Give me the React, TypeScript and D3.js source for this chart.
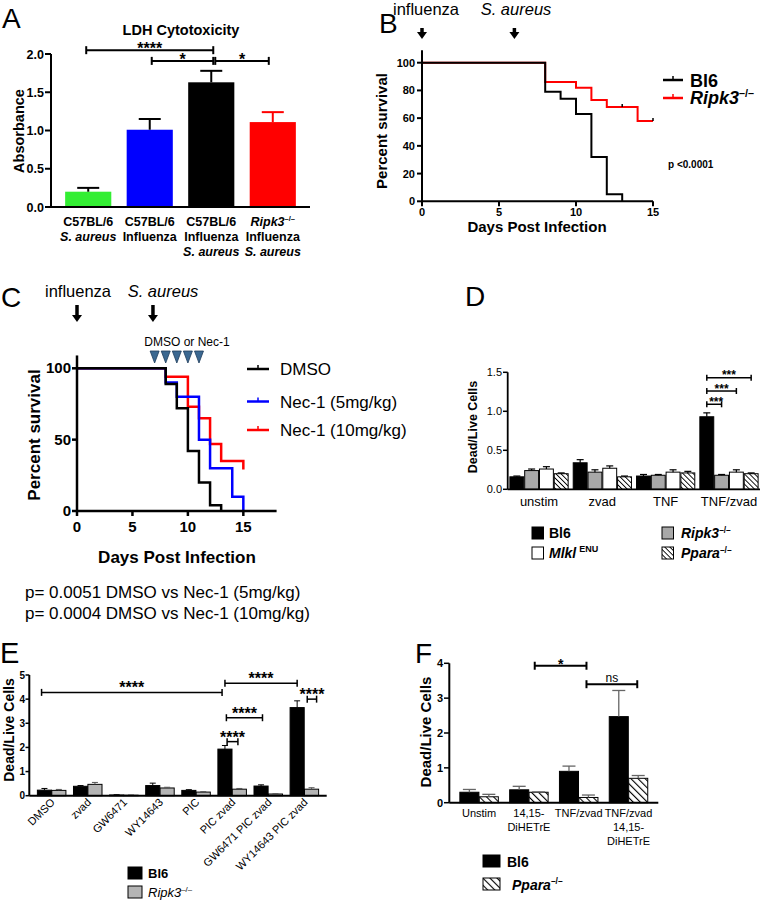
import React from 'react';
import * as d3 from 'd3';

const FONT = '"Liberation Sans", Arial, Helvetica, sans-serif';

// ---------- A: LDH cytotoxicity
const ldhLabels = [
  ['C57BL/6', 'S. aureus'],
  ['C57BL/6', 'Influenza'],
  ['C57BL/6', 'Influenza', 'S. aureus'],
  ['Ripk3', 'Influenza', 'S. aureus'],
];
const ldhMeans = [0.2, 1.01, 1.63, 1.11];
const ldhErr = [0.05, 0.14, 0.15, 0.13];
const ldhColors = ['#33ee33', '#0000ff', '#000000', '#ff0000'];
const ldhErrColors = ['#000', '#000', '#000', '#ff0000'];
const ldhTicks = [0, 0.5, 1, 1.5, 2];
const ldhSig = [
  { a: 0, b: 2, level: 2.05, label: '****', da: -2, db: 2 },
  { a: 1, b: 2, level: 1.91, label: '*', da: 2, db: 2 },
  { a: 2, b: 3, level: 1.91, label: '*', da: 4, db: -4 },
];

// ---------- B: survival Bl6 vs Ripk3
const bBl6Days = [0, 8, 9, 10, 11, 12, 13];
const bBl6Surv = [100, 79, 74, 63, 32, 5, 0];
const bRipDays = [0, 8, 10, 11, 12, 14, 15];
const bRipSurv = [100, 86, 82, 73, 68, 58, 58];
const bRipCensor = [[13, 68], [15, 58]];
const bYTicks = [0, 20, 40, 60, 80, 100];
const bXTicks = [0, 5, 10, 15];

// ---------- C: survival Nec-1
const cDmsoDays = [0, 8, 9, 10, 11, 12, 13];
const cDmsoSurv = [100, 89, 72, 42, 20, 4, 0];
const cNec5Days = [0, 8, 9, 11, 12, 14, 15];
const cNec5Surv = [100, 90, 80, 50, 30, 10, 0];
const cNec10Days = [0, 8, 10, 11, 12, 13, 15];
const cNec10Surv = [100, 94, 73, 65, 47, 35, 29];
const cDoseDays = [7, 8, 9, 10, 11];
const cYTicks = [0, 50, 100];
const cXTicks = [0, 5, 10, 15];
const cLegend = ['DMSO', 'Nec-1 (5mg/kg)', 'Nec-1 (10mg/kg)'];
const cColors = ['#000000', '#0000ff', '#ff0000'];
const cPvals = ['p= 0.0051 DMSO vs Nec-1 (5mg/kg)', 'p= 0.0004 DMSO vs Nec-1 (10mg/kg)'];

// ---------- D: dead/live by genotype
const dGroups = ['unstim', 'zvad', 'TNF', 'TNF/zvad'];
const dBl6 = [0.16, 0.34, 0.17, 0.93];
const dBl6Err = [0.01, 0.04, 0.02, 0.05];
const dRipk3 = [0.24, 0.22, 0.18, 0.18];
const dRipk3Err = [0.02, 0.03, 0.01, 0.01];
const dMlkl = [0.26, 0.27, 0.22, 0.22];
const dMlklErr = [0.03, 0.03, 0.03, 0.03];
const dPpara = [0.2, 0.16, 0.21, 0.2];
const dPparaErr = [0.01, 0.01, 0.02, 0.01];
const dTicks = [0, 0.5, 1, 1.5];
const dSig = [
  { b: 1, level: 1.09 },
  { b: 2, level: 1.26 },
  { b: 3, level: 1.43 },
];

// ---------- E: PPAR ligands
const eGroups = ['DMSO', 'zvad', 'GW6471', 'WY14643', 'PIC', 'PIC zvad', 'GW6471 PIC zvad', 'WY14643 PIC zvad'];
const eBl6 = [0.23, 0.39, 0.03, 0.42, 0.22, 1.93, 0.4, 3.65];
const eBl6Err = [0.07, 0.03, 0.01, 0.1, 0.03, 0.15, 0.05, 0.28];
const eRipk3 = [0.22, 0.47, 0.02, 0.32, 0.15, 0.27, 0.07, 0.27];
const eRipk3Err = [0.04, 0.08, 0.01, 0.03, 0.02, 0.03, 0.01, 0.06];
const eTicks = [0, 1, 2, 3, 4, 5];
const eSig = [
  { g1: 0, b1: -0.2, g2: 5, b2: -0.2, level: 4.28 },
  { g1: 5, b1: 0, g2: 7, b2: 0, level: 4.66 },
  { g1: 5, b1: 0.1, g2: 6, b2: 0.1, level: 3.23 },
  { g1: 5, b1: 0.15, g2: 5, b2: 0.9, level: 2.24 },
  { g1: 7, b1: 0.7, g2: 7, b2: 1.35, level: 4.0 },
];

// ---------- F: DiHETrE
const fLabels = [['Unstim'], ['14,15-', 'DiHETrE'], ['TNF/zvad'], ['TNF/zvad', '14,15-', 'DiHETrE']];
const fBl6 = [0.3, 0.37, 0.9, 2.47];
const fBl6Err = [0.08, 0.1, 0.15, 0.75];
const fPpara = [0.17, 0.3, 0.15, 0.7];
const fPparaErr = [0.07, 0.01, 0.07, 0.08];
const fTicks = [0, 1, 2, 3, 4];
const fSig = [
  { g1: 1, b1: 0.8, g2: 2, b2: 0.9, level: 3.93, label: '*' },
  { g1: 2, b1: 0.9, g2: 3, b2: 0.95, level: 3.4, label: 'ns' },
];

const ErrorBar = ({ x, y0, y1, w, sw = 1, stroke = '#000' }) => (
  <g stroke={stroke} strokeWidth={sw}>
    <line x1={x} x2={x} y1={y0} y2={y1} />
    <line x1={x - w / 2} x2={x + w / 2} y1={y1} y2={y1} />
  </g>
);

const Bracket = ({ x1, x2, y, cap = 4, sw = 2 }) => (
  <g stroke="#000" strokeWidth={sw}>
    <line x1={x1} x2={x2} y1={y} y2={y} />
    <line x1={x1} x2={x1} y1={y - cap} y2={y + cap} />
    <line x1={x2} x2={x2} y1={y - cap} y2={y + cap} />
  </g>
);

const Arrow = ({ x, y1, y2 }) => (
  <g>
    <line x1={x} x2={x} y1={y1} y2={y2 - 6} stroke="#000" strokeWidth={3.5} />
    <path d={`M${x - 5},${y2 - 7}L${x + 5},${y2 - 7}L${x},${y2}Z`} fill="#000" />
  </g>
);

const KO = ({ name, fs }) => (
  <>
    <tspan fontStyle="italic">{name}</tspan>
    <tspan fontSize={fs * 0.6} dy={-fs * 0.38}>–/–</tspan>
  </>
);

function PanelA() {
  const x = d3.scaleBand().domain(d3.range(ldhMeans.length)).range([51, 310]).paddingInner(0.25).paddingOuter(0.23);
  const y = d3.scaleLinear().domain([0, 2]).range([207, 54]);
  const cx = (i) => x(i) + x.bandwidth() / 2;
  return (
    <g>
      <text x={2} y={28} fontSize={28}>A</text>
      <text x={181} y={35} fontSize={14.5} fontWeight="bold" textAnchor="middle">LDH Cytotoxicity</text>
      {ldhMeans.map((v, i) => (
        <g key={i}>
          <rect x={x(i)} y={y(v)} width={x.bandwidth()} height={y(0) - y(v)} fill={ldhColors[i]} />
          <ErrorBar x={cx(i)} y0={y(v)} y1={y(v + ldhErr[i])} w={22} sw={2} stroke={ldhErrColors[i]} />
        </g>
      ))}
      <line x1={51} x2={310} y1={y(0)} y2={y(0)} stroke="#000" strokeWidth={2} />
      <line x1={51} x2={51} y1={y(0)} y2={y(2)} stroke="#000" strokeWidth={2} />
      {ldhTicks.map((t) => (
        <g key={t}>
          <line x1={45} x2={51} y1={y(t)} y2={y(t)} stroke="#000" strokeWidth={2} />
          <text x={44} y={y(t) + 4.5} fontSize={12.5} fontWeight="bold" textAnchor="end">{t.toFixed(1)}</text>
        </g>
      ))}
      <text transform={`translate(24,${131}) rotate(-90)`} fontSize={14.5} fontWeight="bold" textAnchor="middle">Absorbance</text>
      {ldhLabels.map((lines, i) =>
        lines.map((l, j) => (
          <text key={i + '-' + j} x={cx(i)} y={225.5 + j * 15} fontSize={12.5} fontWeight="bold" textAnchor="middle"
            fontStyle={l === 'S. aureus' ? 'italic' : 'normal'}>
            {l === 'Ripk3' ? <KO name="Ripk3" fs={12.5} /> : l}
          </text>
        ))
      )}
      {ldhSig.map((s, i) => {
        const x1 = cx(s.a) + s.da, x2 = cx(s.b) + s.db;
        return (
          <g key={i}>
            <Bracket x1={x1} x2={x2} y={y(s.level)} />
            <text x={(x1 + x2) / 2} y={y(s.level) + 4} fontSize={16} fontWeight="bold" textAnchor="middle">{s.label}</text>
          </g>
        );
      })}
    </g>
  );
}

function PanelB() {
  const x = d3.scaleLinear().domain([0, 15]).range([422, 653]);
  const y = d3.scaleLinear().domain([0, 100]).range([201.3, 62.7]);
  const line = d3.line().x((d) => x(d[0])).y((d) => y(d[1])).curve(d3.curveStepAfter);
  return (
    <g>
      <text x={379} y={33} fontSize={28}>B</text>
      <text x={426} y={15} fontSize={16.5} textAnchor="middle">influenza</text>
      <text x={516} y={15} fontSize={16.5} fontStyle="italic" textAnchor="middle">S. aureus</text>
      <Arrow x={x(0)} y1={28} y2={39} />
      <Arrow x={x(6)} y1={28} y2={39} />
      <path d={line(d3.zip(bRipDays, bRipSurv))} fill="none" stroke="#ff0000" strokeWidth={2} />
      <path d={line(d3.zip(bBl6Days, bBl6Surv))} fill="none" stroke="#000" strokeWidth={2} />
      {bRipCensor.map((c, i) => (
        <line key={i} x1={x(c[0])} x2={x(c[0])} y1={y(c[1]) - 3} y2={y(c[1])} stroke="#000" strokeWidth={1.5} />
      ))}
      <line x1={x(0)} x2={x(0)} y1={y(0)} y2={y(109)} stroke="#000" strokeWidth={2} />
      <line x1={x(0)} x2={x(15)} y1={y(0)} y2={y(0)} stroke="#000" strokeWidth={2} />
      {bYTicks.map((t) => (
        <g key={t}>
          <line x1={x(0) - 5} x2={x(0)} y1={y(t)} y2={y(t)} stroke="#000" strokeWidth={2} />
          <text x={x(0) - 7} y={y(t) + 4} fontSize={11} fontWeight="bold" textAnchor="end">{t}</text>
        </g>
      ))}
      {bXTicks.map((t) => (
        <g key={t}>
          <line x1={x(t)} x2={x(t)} y1={y(0)} y2={y(0) + 5} stroke="#000" strokeWidth={2} />
          <text x={x(t)} y={216} fontSize={11} fontWeight="bold" textAnchor="middle">{t}</text>
        </g>
      ))}
      <text transform="translate(387,131) rotate(-90)" fontSize={15} fontWeight="bold" textAnchor="middle">Percent survival</text>
      <text x={537} y={232} fontSize={15} fontWeight="bold" textAnchor="middle">Days Post Infection</text>
      {[{ c: '#000', y: 80 }, { c: '#ff0000', y: 98 }].map((l, i) => (
        <g key={i}>
          <line x1={663} x2={683} y1={l.y} y2={l.y} stroke={l.c} strokeWidth={2.5} />
          <line x1={673} x2={673} y1={l.y - 4} y2={l.y} stroke={l.c} strokeWidth={1.5} />
        </g>
      ))}
      <text x={690} y={87} fontSize={18} fontWeight="bold">Bl6</text>
      <text x={690} y={104} fontSize={18} fontWeight="bold"><KO name="Ripk3" fs={18} /></text>
      <text x={668} y={168} fontSize={10} fontWeight="bold">p &lt;0.0001</text>
    </g>
  );
}

function PanelC() {
  const x = d3.scaleLinear().domain([0, 18]).range([77, 276.6]);
  const y = d3.scaleLinear().domain([0, 100]).range([511, 368.3]);
  const line = d3.line().x((d) => x(d[0])).y((d) => y(d[1])).curve(d3.curveStepAfter);
  const curves = [
    d3.zip(cDmsoDays, cDmsoSurv),
    d3.zip(cNec5Days, cNec5Surv),
    d3.zip(cNec10Days, cNec10Surv),
  ];
  const legY = [369, 401.5, 430];
  return (
    <g>
      <text x={1} y={307} fontSize={28}>C</text>
      <text x={78} y={297} fontSize={16.5} textAnchor="middle">influenza</text>
      <text x={163} y={297} fontSize={16.5} fontStyle="italic" textAnchor="middle">S. aureus</text>
      <Arrow x={x(0)} y1={305} y2={322} />
      <Arrow x={x(6.85)} y1={305} y2={322} />
      <text x={187} y={346} fontSize={12} textAnchor="middle">DMSO or Nec-1</text>
      {cDoseDays.map((d) => (
        <path key={d} d={`M${x(d) - 4.5},351L${x(d) + 4.5},351L${x(d)},363Z`} fill="#3b6891" stroke="#1e3c5c" strokeWidth={0.8} />
      ))}
      {[2, 1, 0].map((i) => (
        <path key={i} d={line(curves[i])} fill="none" stroke={cColors[i]} strokeWidth={2.5} />
      ))}
      <line x1={x(0)} x2={x(0)} y1={y(0)} y2={y(109)} stroke="#000" strokeWidth={2.5} />
      <line x1={x(0)} x2={x(18)} y1={y(0)} y2={y(0)} stroke="#000" strokeWidth={2.5} />
      {cYTicks.map((t) => (
        <g key={t}>
          <line x1={x(0) - 5} x2={x(0)} y1={y(t)} y2={y(t)} stroke="#000" strokeWidth={2.5} />
          <text x={x(0) - 6} y={y(t) + 5} fontSize={15} fontWeight="bold" textAnchor="end">{t}</text>
        </g>
      ))}
      {cXTicks.map((t) => (
        <g key={t}>
          <line x1={x(t)} x2={x(t)} y1={y(0)} y2={y(0) + 5} stroke="#000" strokeWidth={2.5} />
          <text x={x(t)} y={532} fontSize={15} fontWeight="bold" textAnchor="middle">{t}</text>
        </g>
      ))}
      <text transform="translate(40,435) rotate(-90)" fontSize={17} fontWeight="bold" textAnchor="middle">Percent survival</text>
      <text x={177} y={563} fontSize={17} fontWeight="bold" textAnchor="middle">Days Post Infection</text>
      {cLegend.map((l, i) => (
        <g key={l}>
          <line x1={247} x2={269} y1={legY[i]} y2={legY[i]} stroke={cColors[i]} strokeWidth={2.5} />
          <line x1={258} x2={258} y1={legY[i] - 4} y2={legY[i]} stroke={cColors[i]} strokeWidth={1.5} />
          <text x={280} y={legY[i] + 6} fontSize={17}>{l}</text>
        </g>
      ))}
      {cPvals.map((p, i) => (
        <text key={i} x={25} y={598 + i * 21} fontSize={17}>{p}</text>
      ))}
    </g>
  );
}

function PanelD() {
  const gx = d3.scaleBand().domain(dGroups).range([508, 760]).paddingInner(0.08).paddingOuter(0.03);
  const ix = d3.scaleBand().domain(d3.range(4)).range([0, gx.bandwidth()]).paddingInner(0.06);
  const y = d3.scaleLinear().domain([0, 1.5]).range([489.3, 372.3]);
  const series = [
    { v: dBl6, e: dBl6Err, fill: '#000' },
    { v: dRipk3, e: dRipk3Err, fill: '#a8a8a8' },
    { v: dMlkl, e: dMlklErr, fill: '#fff' },
    { v: dPpara, e: dPparaErr, fill: 'url(#hatchD)' },
  ];
  const bx = (g, b) => gx(dGroups[g]) + ix(b) + ix.bandwidth() / 2;
  return (
    <g>
      <text x={465} y={306} fontSize={28}>D</text>
      {dGroups.map((g, gi) =>
        series.map((s, si) => (
          <g key={g + si}>
            <rect x={gx(g) + ix(si)} y={y(s.v[gi])} width={ix.bandwidth()} height={y(0) - y(s.v[gi])} fill={s.fill} stroke="#000" strokeWidth={1} />
            <ErrorBar x={bx(gi, si)} y0={y(s.v[gi])} y1={y(s.v[gi] + s.e[gi])} w={7} sw={1.2} />
          </g>
        ))
      )}
      <line x1={507.7} x2={760} y1={y(0)} y2={y(0)} stroke="#000" strokeWidth={1.8} />
      <line x1={507.7} x2={507.7} y1={y(0)} y2={y(1.5)} stroke="#000" strokeWidth={1.8} />
      {dTicks.map((t) => (
        <g key={t}>
          <line x1={503} x2={507.7} y1={y(t)} y2={y(t)} stroke="#000" strokeWidth={1.5} />
          <text x={502} y={y(t) + 4} fontSize={11} textAnchor="end">{t.toFixed(1)}</text>
        </g>
      ))}
      <text transform="translate(477,427) rotate(-90)" fontSize={12.5} fontWeight="bold" textAnchor="middle">Dead/Live Cells</text>
      {dGroups.map((g) => (
        <text key={g} x={gx(g) + gx.bandwidth() / 2} y={506} fontSize={13} textAnchor="middle">{g}</text>
      ))}
      {dSig.map((s, i) => {
        const x1 = bx(3, 0), x2 = bx(3, s.b);
        return (
          <g key={i}>
            <Bracket x1={x1} x2={x2} y={y(s.level)} cap={3} sw={1.5} />
            <text x={(x1 + x2) / 2 + (i === 0 ? 2 : 0)} y={y(s.level) + 1.5} fontSize={12} fontWeight="bold" textAnchor="middle">***</text>
          </g>
        );
      })}
      <rect x={532} y={527} width={11.5} height={12} fill="#000" stroke="#000" />
      <rect x={532} y={547} width={11.5} height={12} fill="#fff" stroke="#000" />
      <rect x={662} y={527} width={11.5} height={12} fill="#a8a8a8" stroke="#000" />
      <rect x={662} y={547} width={11.5} height={12} fill="url(#hatchD)" stroke="#000" />
      <text x={549} y={538} fontSize={14} fontWeight="bold">Bl6</text>
      <text x={549} y={558} fontSize={14} fontWeight="bold">
        <tspan fontStyle="italic">Mlkl</tspan>
        <tspan fontSize={9} dy={-6} dx={3}>ENU</tspan>
      </text>
      <text x={681} y={538} fontSize={14} fontWeight="bold"><KO name="Ripk3" fs={14} /></text>
      <text x={681} y={558} fontSize={14} fontWeight="bold"><KO name="Ppara" fs={14} /></text>
    </g>
  );
}

function PanelE() {
  const gx = d3.scaleBand().domain(d3.range(eGroups.length)).range([29.3, 326.7]).paddingInner(0.21).paddingOuter(0.224);
  const ix = d3.scaleBand().domain([0, 1]).range([0, gx.bandwidth()]).paddingInner(0.02);
  const y = d3.scaleLinear().domain([0, 5]).range([795.7, 675]);
  const series = [
    { v: eBl6, e: eBl6Err, fill: '#000' },
    { v: eRipk3, e: eRipk3Err, fill: '#b4b4b4' },
  ];
  const bx = (g, b) => gx(g) + ix(0) + b * ix.step() + ix.bandwidth() / 2;
  return (
    <g>
      <text x={0} y={663} fontSize={29}>E</text>
      {eGroups.map((g, gi) =>
        series.map((s, si) => (
          <g key={g + si}>
            <rect x={gx(gi) + ix(si)} y={y(s.v[gi])} width={ix.bandwidth()} height={y(0) - y(s.v[gi])} fill={s.fill} stroke="#000" strokeWidth={1} />
            <ErrorBar x={bx(gi, si)} y0={y(s.v[gi])} y1={y(s.v[gi] + s.e[gi])} w={6} sw={1} stroke={si === 0 ? '#000' : '#555'} />
          </g>
        ))
      )}
      <line x1={29.3} x2={326.7} y1={y(0)} y2={y(0)} stroke="#000" strokeWidth={2} />
      <line x1={29.3} x2={29.3} y1={y(0)} y2={y(5)} stroke="#000" strokeWidth={2} />
      {eTicks.map((t) => (
        <g key={t}>
          <line x1={25.5} x2={29.3} y1={y(t)} y2={y(t)} stroke="#000" strokeWidth={1.5} />
          <text x={25} y={y(t) + 3.5} fontSize={10} fontWeight="bold" textAnchor="end">{t}</text>
        </g>
      ))}
      <text transform="translate(14,730) rotate(-90)" fontSize={14} fontWeight="bold" textAnchor="middle">Dead/Live Cells</text>
      {eGroups.map((g, gi) => (
        <text key={g} transform={`translate(${gx(gi) + gx.bandwidth() / 2 + 4},${803}) rotate(-45)`} fontSize={11} textAnchor="end">{g}</text>
      ))}
      {eSig.map((s, i) => {
        const x1 = bx(s.g1, s.b1), x2 = bx(s.g2, s.b2);
        return (
          <g key={i}>
            <Bracket x1={x1} x2={x2} y={y(s.level)} cap={3.5} sw={1.5} />
            <text x={(x1 + x2) / 2} y={y(s.level) + 1} fontSize={16} fontWeight="bold" textAnchor="middle">****</text>
          </g>
        );
      })}
      <rect x={128} y={867} width={14} height={12} fill="#000" stroke="#000" />
      <rect x={128} y={886} width={14} height={12} fill="#b4b4b4" stroke="#000" />
      <text x={148} y={878} fontSize={13} fontWeight="bold">Bl6</text>
      <text x={148} y={897} fontSize={13}><KO name="Ripk3" fs={13} /></text>
    </g>
  );
}

function PanelF() {
  const gx = d3.scaleBand().domain(d3.range(fLabels.length)).range([449.3, 658.3]).paddingInner(0.227).paddingOuter(0.212);
  const ix = d3.scaleBand().domain([0, 1]).range([0, gx.bandwidth()]).paddingInner(0.02);
  const y = d3.scaleLinear().domain([0, 4]).range([802.7, 663.3]);
  const series = [
    { v: fBl6, e: fBl6Err, fill: '#000' },
    { v: fPpara, e: fPparaErr, fill: 'url(#hatchF)' },
  ];
  const bx = (g, b) => gx(g) + ix(0) + b * ix.step() + ix.bandwidth() / 2;
  return (
    <g>
      <text x={415} y={663} fontSize={28}>F</text>
      {fLabels.map((g, gi) =>
        series.map((s, si) => (
          <g key={gi + '-' + si}>
            <rect x={gx(gi) + ix(si)} y={y(s.v[gi])} width={ix.bandwidth()} height={y(0) - y(s.v[gi])} fill={s.fill} stroke="#000" strokeWidth={1} />
            <ErrorBar x={bx(gi, si)} y0={y(s.v[gi])} y1={y(s.v[gi] + s.e[gi])} w={13} sw={1.3} stroke="#666" />
          </g>
        ))
      )}
      <line x1={449.3} x2={658.3} y1={y(0)} y2={y(0)} stroke="#000" strokeWidth={2} />
      <line x1={449.3} x2={449.3} y1={y(0)} y2={y(4)} stroke="#000" strokeWidth={2} />
      {fTicks.map((t) => (
        <g key={t}>
          <line x1={444} x2={449.3} y1={y(t)} y2={y(t)} stroke="#000" strokeWidth={1.5} />
          <text x={443} y={y(t) + 4} fontSize={11} fontWeight="bold" textAnchor="end">{t}</text>
        </g>
      ))}
      <text transform="translate(431,732) rotate(-90)" fontSize={15} fontWeight="bold" textAnchor="middle">Dead/Live Cells</text>
      {fLabels.map((lines, gi) =>
        lines.map((l, j) => (
          <text key={gi + '-' + j} x={gx(gi) + gx.bandwidth() / 2} y={816.5 + j * 14} fontSize={11} textAnchor="middle">{l}</text>
        ))
      )}
      {fSig.map((s, i) => {
        const x1 = bx(s.g1, s.b1), x2 = bx(s.g2, s.b2);
        return (
          <g key={i}>
            <Bracket x1={x1} x2={x2} y={y(s.level)} cap={4} sw={2} />
            <text x={(x1 + x2) / 2} y={y(s.level) + (s.label === 'ns' ? -2 : 3)} fontSize={s.label === 'ns' ? 12 : 14} fontWeight={s.label === 'ns' ? 'normal' : 'bold'} textAnchor="middle">{s.label}</text>
          </g>
        );
      })}
      <rect x={483} y={855} width={17} height={12} fill="#000" stroke="#000" />
      <rect x={483} y={878} width={17} height={12} fill="url(#hatchF)" stroke="#000" />
      <text x={507} y={866.5} fontSize={14} fontWeight="bold">Bl6</text>
      <text x={512} y={889.5} fontSize={14} fontWeight="bold"><KO name="Ppara" fs={14} /></text>
    </g>
  );
}

export default function App() {
  return (
    <svg width={762} height={900} fontFamily={FONT} style={{ position: 'absolute', left: 0, top: 0, background: '#fff' }}>
      <defs>
        <pattern id="hatchD" width={3.6} height={3.6} patternUnits="userSpaceOnUse" patternTransform="rotate(-45)">
          <rect width={3.6} height={3.6} fill="#fff" />
          <line x1={0} y1={0} x2={0} y2={3.6} stroke="#000" strokeWidth={1.8} />
        </pattern>
        <pattern id="hatchF" width={5} height={5} patternUnits="userSpaceOnUse" patternTransform="rotate(-45)">
          <rect width={5} height={5} fill="#fff" />
          <line x1={0} y1={0} x2={0} y2={5} stroke="#000" strokeWidth={2.2} />
        </pattern>
      </defs>
      <PanelA />
      <PanelB />
      <PanelC />
      <PanelD />
      <PanelE />
      <PanelF />
    </svg>
  );
}
